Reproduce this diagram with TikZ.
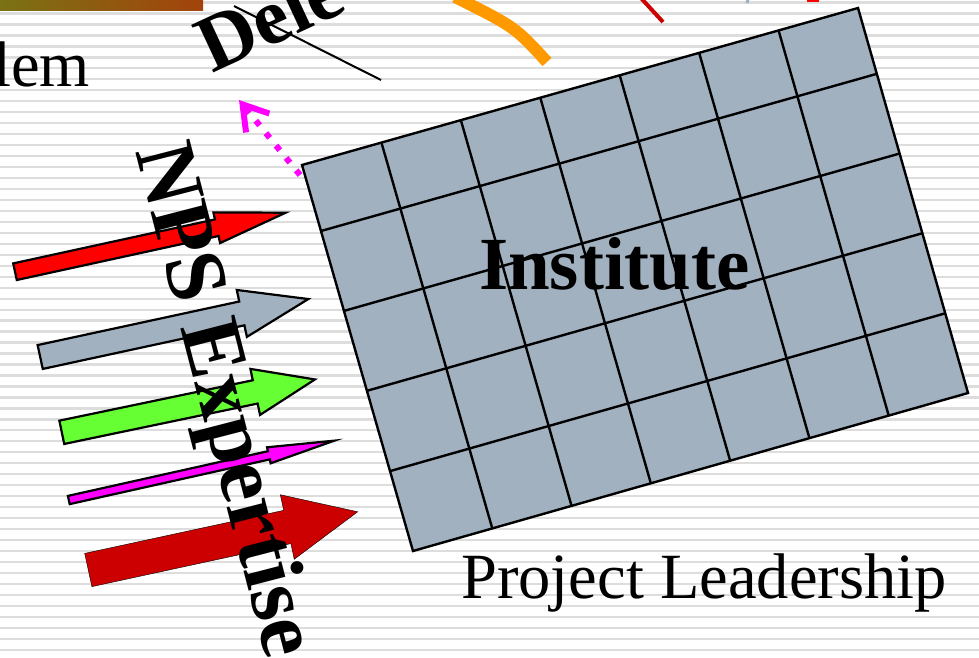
\documentclass[tikz,border=0pt]{standalone}
\usepackage{fontspec}
\setmainfont{Liberation Serif}
\usetikzlibrary{calc,arrows.meta}

\definecolor{stripegray}{RGB}{221,221,221}
\definecolor{slate}{RGB}{162,177,192}
\definecolor{arrowred}{RGB}{255,0,0}
\definecolor{arrowgreen}{RGB}{102,255,51}
\definecolor{arrowpink}{RGB}{255,0,255}
\definecolor{arrowdark}{RGB}{204,0,0}
\definecolor{bandorange}{RGB}{255,153,0}
\definecolor{barolive}{RGB}{122,114,20}
\definecolor{barrust}{RGB}{163,67,12}

\tikzstyle{Stripe} = [draw=stripegray, line width=2.3pt]
\tikzstyle{Cell}   = [draw=black, line width=2.4pt]
\tikzstyle{Shaft}  = [draw=black, line width=2.2pt, line join=miter]
\tikzstyle{Bold}   = [inner sep=0pt, font=\bfseries\fontsize{80}{90}\selectfont]
\tikzstyle{Plain}  = [inner sep=0pt, font=\fontsize{64.5}{74}\selectfont]

% block arrow: style, tail, angle, length, shaft half width, head half width, head length
\newcommand{\BlockArrow}[7]{%
  \draw[#1, shift={#2}, rotate=#3]
    (0,-#5) -- ({#4-#7},-#5) -- ({#4-#7},-#6) -- (#4,0)
    -- ({#4-#7},#6) -- ({#4-#7},#5) -- (0,#5) -- cycle;}

\begin{document}
\begin{tikzpicture}[x=1pt, y=-1pt]
    \useasboundingbox (0,0) rectangle (979,657);
    \clip (0,0) rectangle (979,657);
    \fill[white] (0,0) rectangle (979,657);
    \foreach \k in {0,...,59}
        \draw[Stripe] (0,{2.5+10.97*\k}) -- (979,{2.5+10.97*\k});

    % pieces cut by the top edge
    \shade[left color=barolive, right color=barrust] (0,-2) rectangle (203,10);
    \draw[bandorange, line width=12pt] (455,-3) .. controls (515,27) .. (547,62);
    \draw[arrowdark, line width=4pt] (640,-3) -- (663,22);
    \draw[slate, line width=3pt] (749,-4) -- (747,3);
    \fill[arrowred] (807,-3) rectangle (819,2);

    % institute grid
    \coordinate (TL) at (302,165);
    \coordinate (TR) at (858,8);
    \coordinate (BR) at (968,393);
    \coordinate (BL) at (413,551);
    \filldraw[Cell, fill=slate] (TL) -- (TR) -- (BR) -- (BL) -- cycle;
    \foreach \i in {1,...,6}
        \draw[Cell] ($(TL)!\i/7!(TR)$) -- ($(BL)!\i/7!(BR)$);
    \foreach \f in {0.171,0.378,0.585,0.793}
        \draw[Cell] ($(TL)!\f!(BL)$) -- ($(TR)!\f!(BR)$);

    % dotted pointer
    \coordinate (dot_start) at (300,175);
    \coordinate (dot_end)   at (239,100);
    \draw[arrowpink, line width=6pt, dash pattern=on 6pt off 10pt,
          -{Straight Barb[length=24pt, width=30pt]}] (dot_start) -- (dot_end);

    % block arrows
    \BlockArrow{Shaft, fill=arrowred}{(15,271.7)}{12.3}{277}{8.5}{15.7}{70.5}
    \BlockArrow{Shaft, fill=slate}{(40.2,357)}{12.2}{274.3}{12.2}{24}{68}
    \BlockArrow{Shaft, fill=arrowgreen}{(61.8,432.3)}{11.8}{258.6}{11.9}{23.5}{61}
    \BlockArrow{Shaft, fill=arrowpink}{(68.8,500)}{12.6}{272}{4.2}{8.2}{67}
    \BlockArrow{fill=arrowdark}{(88.3,570)}{12.2}{275.6}{17}{33}{72}

    % texts
    \node[Plain, anchor=base east] (problem) at (90,86) {lem};
    \node[Bold, anchor=base west, rotate=25] (dele) at (212,74) {Dele};
    \draw[black, line width=2pt] (234,6) -- (381,80);
    \node[Bold, anchor=base west, rotate=-75.5, font=\bfseries\fontsize{85}{95}\selectfont] (expertise) at (135,151) {NPS Expertise};
    \node[Bold, anchor=base, font=\bfseries\fontsize{75}{85}\selectfont] (institute) at (614.5,289) {Institute};
    \node[Plain, anchor=base] (leadership) at (704,598) {Project Leadership};
\end{tikzpicture}
\end{document}
